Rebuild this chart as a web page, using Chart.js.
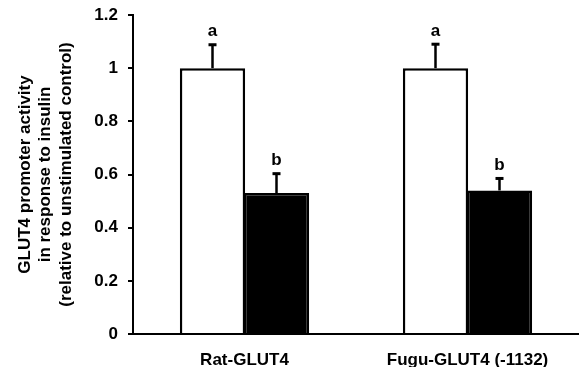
<!DOCTYPE html>
<html>
<head>
<meta charset="utf-8">
<script src="https://cdn.jsdelivr.net/npm/chart.js@4/dist/chart.umd.min.js"></script>
<style>
  body { margin: 0; background: #fff; }
  #wrap { width: 579px; height: 367px; }
</style>
</head>
<body>
<div id="wrap"><canvas id="chart" width="579" height="367"></canvas></div>
<script>
const groups = ['Rat-GLUT4', 'Fugu-GLUT4 (-1132)'];
const unstimulated = [1.0, 1.0];
const insulin = [0.53, 0.54];
const unstimErr = [0.09, 0.092];
const insulinErr = [0.075, 0.047];
const unstimLetters = ['a', 'a'];
const insulinLetters = ['b', 'b'];
const yMax = 1.2;
const yStep = 0.2;
const yTitle = ['GLUT4 promoter activity', 'in response to insulin', '(relative to unstimulated control)'];

const fontFamily = '"Liberation Sans", Arial, sans-serif';

// error bars + significance letters
const errorBars = {
    id: 'errorBars',
    afterDatasetsDraw(chart) {
        const c = chart.ctx;
        const yScale = chart.scales.y;
        chart.data.datasets.forEach((ds, i) => {
            const meta = chart.getDatasetMeta(i);
            meta.data.forEach((bar, j) => {
                const top = yScale.getPixelForValue(ds.data[j]);
                const cap = yScale.getPixelForValue(ds.data[j] + ds.errors[j]);
                c.save();
                c.strokeStyle = '#000';
                c.lineWidth = 2.5;
                c.beginPath();
                c.moveTo(bar.x, top);
                c.lineTo(bar.x, cap);
                c.stroke();
                c.fillStyle = '#000';
                c.fillRect(bar.x - 4, cap - 1, 8, 3);
                c.font = 'bold 17px ' + fontFamily;
                c.textAlign = 'center';
                c.textBaseline = 'alphabetic';
                c.fillText(ds.letters[j], bar.x, cap - 8);
                c.restore();
            });
        });
    }
};

new Chart(document.querySelector('#chart'), {
    type: 'bar',
    data: {
        labels: groups,
        datasets: [{
            data: unstimulated,
            errors: unstimErr,
            letters: unstimLetters,
            backgroundColor: '#fff',
            borderColor: '#000',
            borderWidth: 2.5,
            categoryPercentage: 0.574,
            barPercentage: 1.02
        }, {
            data: insulin,
            errors: insulinErr,
            letters: insulinLetters,
            backgroundColor: '#000',
            borderColor: '#000',
            borderWidth: 2.5,
            categoryPercentage: 0.574,
            barPercentage: 1.02
        }]
    },
    options: {
        responsive: false,
        animation: false,
        layout: { padding: { top: 15, left: 0, right: 0, bottom: 0 } },
        plugins: {
            legend: { display: false },
            tooltip: { enabled: false }
        },
        scales: {
            x: {
                grid: { display: false },
                border: { display: true, color: '#000', width: 2 },
                ticks: {
                    color: '#000',
                    padding: 8,
                    font: { family: fontFamily, size: 17, weight: 'bold' }
                },
                afterFit(scale) { scale.height = 33; }
            },
            y: {
                min: 0,
                max: yMax,
                ticks: {
                    stepSize: yStep,
                    color: '#000',
                    padding: 10,
                    font: { family: fontFamily, size: 17, weight: 'bold' },
                    callback: v => String(Number(v.toFixed(1)))
                },
                grid: {
                    drawOnChartArea: false,
                    drawTicks: true,
                    tickLength: 5,
                    color: '#000',
                    lineWidth: 2
                },
                border: { display: true, color: '#000', width: 2 },
                title: {
                    display: true,
                    text: yTitle,
                    color: '#000',
                    padding: { top: 15, bottom: 0 },
                    font: { family: fontFamily, size: 17, weight: 'bold', lineHeight: 1.2 }
                },
                afterFit(scale) {
                    scale.width = 133;
                    scale.paddingTop = 0;
                    scale.paddingBottom = 0;
                }
            }
        }
    },
    plugins: [errorBars]
});
</script>
</body>
</html>
